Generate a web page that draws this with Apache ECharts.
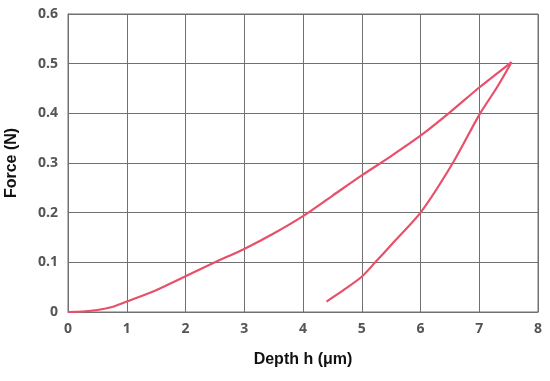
<!DOCTYPE html>
<html><head><meta charset="utf-8">
<script src="https://cdn.jsdelivr.net/npm/echarts@6/dist/echarts.min.js"></script>
<style>html,body{margin:0;padding:0;background:#fff}#c{width:550px;height:381px}</style>
</head><body><div id="c"></div>
<script>
const loadingX = [0,0.25,0.5,0.75,1,1.5,2,2.5,3,3.5,4,4.5,5,5.5,6,6.5,7,7.3,7.55];
const loadingY = [0,0.001,0.004,0.01,0.021,0.044,0.072,0.1,0.127,0.158,0.193,0.234,0.275,0.314,0.355,0.402,0.452,0.48,0.503];
const unloadX = [7.55,7.3,7,6.55,6,5.5,5.23,5,4.7,4.4];
const unloadY = [0.503,0.452,0.397,0.3,0.2,0.135,0.1,0.071,0.045,0.021];
const xTicks = [0,1,2,3,4,5,6,7,8];
const yTicks = [0,0.1,0.2,0.3,0.4,0.5,0.6];

const chart = echarts.init(document.getElementById('c'));
const gridColor = '#707070';
const labelStyle = {color:'#555', fontSize:14, fontWeight:'bold', fontFamily:'"Open Sans", sans-serif'};
chart.setOption({
  animation:false,
  grid:{left:68, right:12, top:14, bottom:69, show:true, borderColor:gridColor, borderWidth:1,
        outerBoundsMode:'none', containLabel:false},
  xAxis:{type:'value', min:xTicks[0], max:xTicks[xTicks.length-1], interval:1,
    name:'Depth h (\u03bcm)', nameLocation:'middle', nameGap:40,
    nameTextStyle:{color:'#111', fontSize:16, fontWeight:'bold', fontFamily:'"Liberation Sans", Arial, sans-serif'},
    axisLine:{show:true, lineStyle:{color:gridColor}}, axisTick:{show:false},
    axisLabel:Object.assign({margin:10, formatter:v=>String(v)}, labelStyle),
    splitLine:{show:true, lineStyle:{color:gridColor, width:1}}},
  yAxis:{type:'value', min:yTicks[0], max:yTicks[yTicks.length-1], interval:0.1,
    name:'Force (N)', nameLocation:'middle', nameGap:48, nameRotate:90,
    nameTextStyle:{color:'#111', fontSize:16, fontWeight:'bold', fontFamily:'"Liberation Sans", Arial, sans-serif'},
    axisLine:{show:true, lineStyle:{color:gridColor}}, axisTick:{show:false},
    axisLabel:Object.assign({margin:10, formatter:v=>v===0?'0':v.toFixed(1)}, labelStyle),
    splitLine:{show:true, lineStyle:{color:gridColor, width:1}}},
  series:[
    {type:'line', data:loadingX.map((x,i)=>[x,loadingY[i]]), smooth:0.25, showSymbol:false,
     lineStyle:{color:'#e8506a', width:2.2}},
    {type:'line', data:unloadX.map((x,i)=>[x,unloadY[i]]), smooth:0.25, showSymbol:false,
     lineStyle:{color:'#e8506a', width:2.2}}
  ]
});
</script></body></html>
